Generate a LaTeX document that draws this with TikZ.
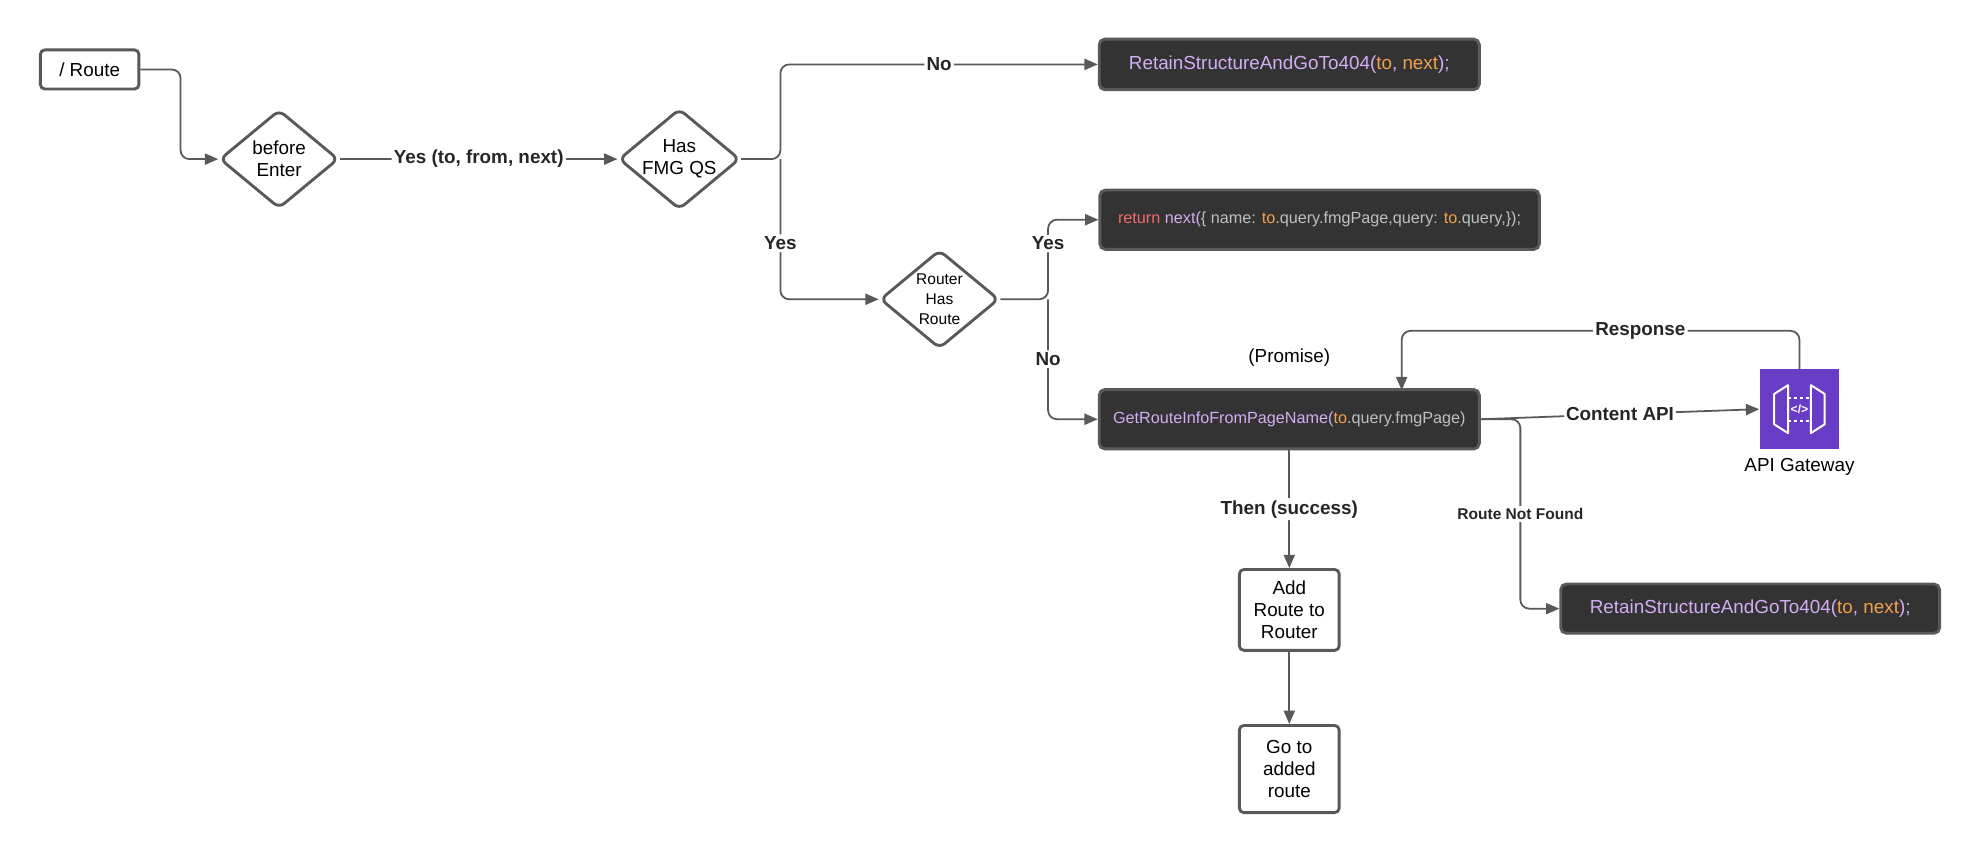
\documentclass[tikz,border=0pt]{standalone}
\usepackage{fontspec}
\setmainfont{Liberation Sans}
\usetikzlibrary{shapes.geometric,arrows.meta}
\definecolor{ln}{HTML}{595959}
\definecolor{dk}{HTML}{333333}
\definecolor{cp}{HTML}{D2AEF5}
\definecolor{co}{HTML}{F0A04B}
\definecolor{cr}{HTML}{F26B6B}
\definecolor{cg}{HTML}{BFBFBF}
\definecolor{aws}{HTML}{693CC5}
\begin{document}
\begin{tikzpicture}[x=0.02cm,y=-0.02cm,
  every node/.style={font=\fontsize{8.5}{10}\selectfont},
  box/.style={draw=ln,line width=1.3pt,rounded corners=2pt,fill=white,align=center},
  dia/.style={draw=ln,line width=1.3pt,diamond,aspect=1.2,rounded corners=3pt,minimum width=94*0.02cm,minimum height=78*0.02cm,inner sep=0pt,align=center,fill=white},
  code/.style={draw=ln,line width=1.3pt,rounded corners=2.5pt,fill=dk,text=cp},
  conn/.style={draw=ln,line width=0.8pt,rounded corners=4pt,-{Triangle[length=6pt,width=5pt]}},
  lab/.style={fill=white,inner sep=1pt,font=\fontsize{8.5}{10}\selectfont\bfseries,text=black!85}]
\useasboundingbox (0,0) rectangle (1568,676);
\node[box,minimum width=78*0.02cm,minimum height=31*0.02cm] (route) at (71,55) {/ Route};
\node[dia] (be) at (221,126) {before\\Enter};
\node[dia] (fmg) at (538,126) {Has\\FMG QS};
\node[dia,font=\fontsize{7}{9}\selectfont] (rhr) at (744,237) {Router\\Has\\Route};
\node[code,minimum width=301*0.02cm,minimum height=40*0.02cm] (e1) at (1021,51) {RetainStructureAndGoTo404(\textcolor{co}{to}, \textcolor{co}{next});};
\node[code,minimum width=348*0.02cm,minimum height=47*0.02cm,font=\fontsize{7.3}{9}\selectfont] (ret) at (1045,174) {\textcolor{cr}{return} next(\textcolor{cg}{\{ name:} \textcolor{co}{to}\textcolor{cg}{.query.fmgPage,query:} \textcolor{co}{to}\textcolor{cg}{.query,\});}};
\node[code,minimum width=301*0.02cm,minimum height=47*0.02cm,font=\fontsize{7.3}{9}\selectfont] (get) at (1021,332) {GetRouteInfoFromPageName(\textcolor{co}{to}\textcolor{cg}{.query.fmgPage)}};
\node[code,minimum width=300*0.02cm,minimum height=39*0.02cm] (e2) at (1386,482) {RetainStructureAndGoTo404(\textcolor{co}{to}, \textcolor{co}{next});};
\node[box,minimum width=79*0.02cm,minimum height=64*0.02cm] (add) at (1021,483) {Add\\Route to\\Router};
\node[box,minimum width=79*0.02cm,minimum height=69*0.02cm] (go) at (1021,609) {Go to\\added\\route};
% API gateway icon
\node[fill=aws,minimum width=63*0.02cm,minimum height=63*0.02cm,inner sep=0pt] (api) at (1425,324) {};
\begin{scope}[draw=white,line width=0.9pt,line join=round]
\draw[white] (1405,312)--(1416,305)--(1416,343)--(1405,336)--cycle;
\draw[white] (1445,312)--(1434,305)--(1434,343)--(1445,336)--cycle;
\draw[white,dashed,dash pattern=on 1.5pt off 1.2pt] (1416,315)--(1434,315) (1416,333)--(1434,333);
\end{scope}
\node[text=white,font=\fontsize{5.5}{6}\selectfont\bfseries,inner sep=0pt] (ic) at (1425,324) {</>};
\node (apil) at (1425,370) {API Gateway};
\node (prom) at (1021,283) {(Promise)};
% connectors
\draw[conn] (route.east) -| (143,90) |- (be.west);
\draw[conn] (be.east) -- node[lab]{Yes (to, from, next)} (fmg.west);
\draw[conn] (fmg.east) -- (618,126) |- node[lab,pos=0.75]{No} (e1.west);
\draw[conn] (618,126) |- node[lab,pos=0.3]{Yes} (rhr.west);
\draw[conn] (rhr.east) -- (830,237) |- node[lab,pos=0.35]{Yes} (ret.west);
\draw[conn] (830,237) |- node[lab,pos=0.25]{No} (get.west);
\draw[conn] (get.east) -- node[lab,pos=0.5]{Content API} (api.west);
\draw[conn] (api.north) |- node[lab,pos=0.7]{Response} (1110,262) -- (1110,309);
\draw[conn] (get.east) -- (1204,332) |- node[lab,pos=0.25,font=\fontsize{7}{9}\selectfont\bfseries]{Route Not Found} (e2.west);
\draw[conn] (get.south) -- node[lab]{Then (success)} (add.north);
\draw[conn] (add.south) -- (go.north);
\end{tikzpicture}
\end{document}
